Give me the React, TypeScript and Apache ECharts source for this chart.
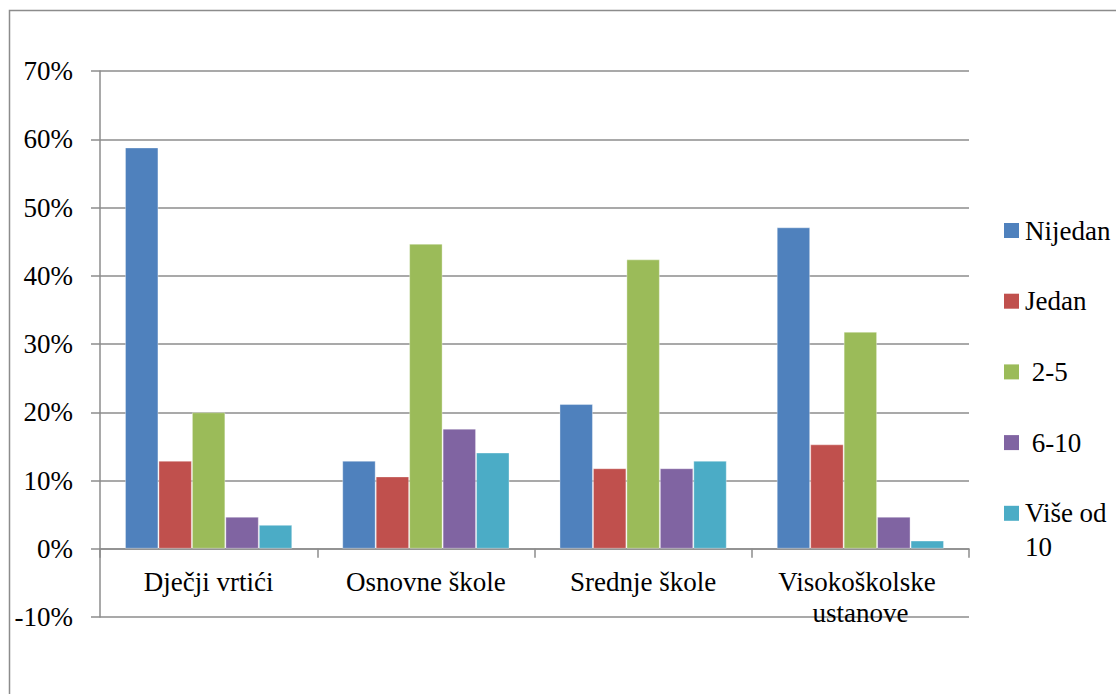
import React, { useEffect, useRef } from "react";
import * as echarts from "echarts";

const categories = ["Dječji vrtići", "Osnovne škole", "Srednje škole", "Visokoškolske ustanove"];
const seriesNames = ["Nijedan", "Jedan", " 2-5", " 6-10", "Više od 10"];
const legendLabels = ["Nijedan", "Jedan", " 2-5", " 6-10", "Više od\n10"];
const colors = ["#4F81BD", "#C0504D", "#9BBB59", "#8064A2", "#4BACC6"];
const nijedan = [58.8, 12.9, 21.2, 47.1];
const jedan = [12.9, 10.6, 11.8, 15.3];
const dvaDoPet = [20.0, 44.7, 42.4, 31.8];
const sestDoDeset = [4.7, 17.6, 11.8, 4.7];
const viseOdDeset = [3.5, 14.1, 12.9, 1.2];
const seriesValues = [nijedan, jedan, dvaDoPet, sestDoDeset, viseOdDeset];
const yMin = -10;
const yMax = 70;
const yStep = 10;

const FONT = "Liberation Serif";
const FS = 27;
const GRID = "#8c8c8c";
const GRID_TOP = 71;
const GRID_BOTTOM = 77;
const CHART_H = 694;

export default function App() {
  const ref = useRef<HTMLDivElement>(null);
  useEffect(() => {
    if (!ref.current) return;
    const chart = echarts.init(ref.current, undefined, { renderer: "svg" });
    const plotH = CHART_H - GRID_TOP - GRID_BOTTOM;
    const zeroOffset = (plotH * (0 - yMin)) / (yMax - yMin);
    const legendGraphics: any[] = [];
    seriesNames.forEach((_, i) => {
      const cy = 230.5 + i * 70.7;
      legendGraphics.push({
        type: "rect",
        shape: { x: 1004, y: cy - 7.5, width: 15, height: 15 },
        style: { fill: colors[i] },
      });
      legendGraphics.push({
        type: "text",
        x: 1025,
        y: cy - 17,
        style: {
          text: legendLabels[i],
          font: `${FS}px "${FONT}"`,
          fill: "#000",
          lineHeight: 34,
          textVerticalAlign: "top",
        },
      });
    });
    chart.setOption({
      animation: false,
      backgroundColor: "#fff",
      grid: { left: 100, right: 147, top: GRID_TOP, bottom: GRID_BOTTOM, containLabel: false },
      xAxis: {
        type: "category",
        data: categories,
        position: "bottom",
        offset: -zeroOffset,
        axisLine: { onZero: false, lineStyle: { color: GRID, width: 1.5 } },
        axisTick: { show: true, length: 9, lineStyle: { color: GRID, width: 1.5 } },
        axisLabel: {
          color: "#000",
          fontFamily: FONT,
          fontSize: FS,
          lineHeight: 31,
          margin: 18,
          width: 205,
          overflow: "break",
          interval: 0,
        },
      },
      yAxis: {
        type: "value",
        min: yMin,
        max: yMax,
        interval: yStep,
        axisLine: { show: true, lineStyle: { color: GRID, width: 1.5 } },
        axisTick: { show: true, length: 9, lineStyle: { color: GRID, width: 1.5 } },
        splitLine: { show: true, lineStyle: { color: GRID, width: 1.5 } },
        axisLabel: {
          color: "#000",
          fontFamily: FONT,
          fontSize: FS,
          margin: 27,
          formatter: "{value}%",
        },
      },
      series: seriesNames.map((name, i) => ({
        name,
        type: "bar",
        data: seriesValues[i],
        barGap: "0%",
        barCategoryGap: "23%",
        itemStyle: { color: colors[i], borderColor: "rgba(255,255,255,0.35)", borderWidth: 1 },
      })),
      graphic: [
        {
          type: "rect",
          shape: { x: 9.5, y: 10.5, width: 1300, height: 900 },
          style: { fill: "none", stroke: GRID, lineWidth: 1.5 },
          silent: true,
        },
        ...legendGraphics,
      ],
    });
    return () => chart.dispose();
  }, []);
  return (
    <div
      ref={ref}
      style={{ position: "fixed", left: 0, top: 0, width: 1116, height: 694 }}
    />
  );
}
